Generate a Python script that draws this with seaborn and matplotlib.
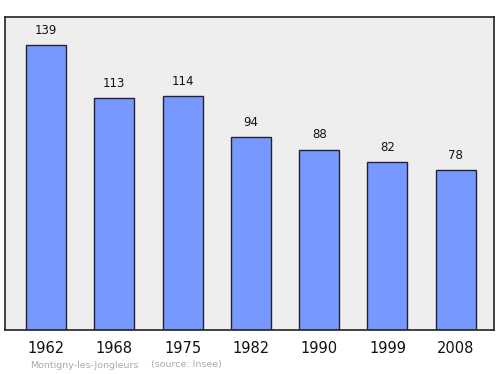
import matplotlib
matplotlib.use("Agg")
import matplotlib.pyplot as plt
import seaborn as sns
import pandas as pd

years = ["1962", "1968", "1975", "1982", "1990", "1999", "2008"]
population = [139, 113, 114, 94, 88, 82, 78]

df = pd.DataFrame({"year": years, "pop": population})

sns.set_style("white")
plt.rcParams['font.family'] = ['DejaVu Sans']

fig = plt.figure(figsize=(5, 3.74), dpi=100)
ax = fig.add_axes([5/500, 1 - 330/374, 489/500, 313/374])
ax.set_facecolor("#eeeeee")

sns.barplot(data=df, x="year", y="pop", ax=ax, color="#7799ff", saturation=1,
            width=0.585, edgecolor="#222233", linewidth=1)

for i, v in enumerate(population):
    ax.text(i, v + 4, str(v), ha="center", va="bottom", fontsize=8.5, color="#111111")

ax.set_xlim(-0.6, 6.56)
ax.set_ylim(0, 152.7)
ax.set_yticks([])
ax.set_xlabel("")
ax.set_ylabel("")
ax.tick_params(axis="x", length=0, pad=8, labelsize=10.5, colors="#111111")
for s in ax.spines.values():
    s.set_color("#222222")
    s.set_linewidth(1.2)

fig.text(30/500, 1 - 365/374, "Montigny-les-Jongleurs", fontsize=6.8, color="#aaaaaa", va="center")
fig.text(151/500, 1 - 365/374, "(source: Insee)", fontsize=6.8, color="#aaaaaa", va="center")

fig.savefig("out.png", dpi=100)
